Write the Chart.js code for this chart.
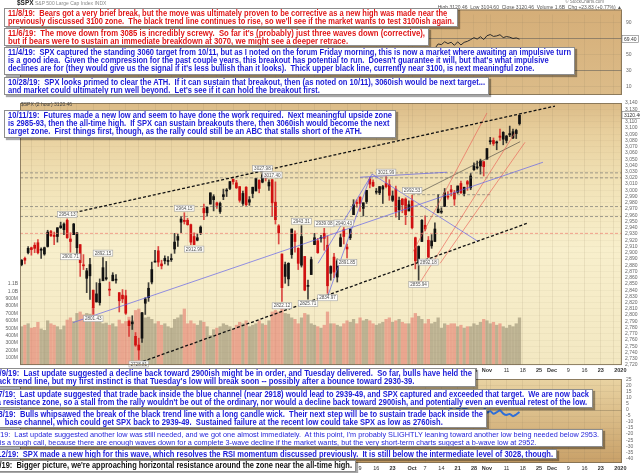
<!DOCTYPE html>
<html>
<head>
<meta charset="utf-8">
<script src="https://cdn.jsdelivr.net/npm/chart.js@4.4.1/dist/chart.umd.min.js"></script>
<style>
  html, body { margin: 0; padding: 0; background: #fff; }
  body { width: 640px; height: 473px; position: relative; overflow: hidden; font-family: "Liberation Sans", Arial, sans-serif; }
  canvas { position: absolute; left: 0; }
  .lbl { position: absolute; white-space: pre; color: #555; font-size: 5px; line-height: 6px; }
  .note { position: absolute; box-sizing: border-box; background: #fff; border: 1px solid #8d8d8d; box-shadow: 2px 2px 1px rgba(0,0,0,.35); overflow: hidden; }
  .note .txt { position: absolute; left: 3px; top: 0.5px; transform-origin: 0 0; white-space: pre; font-weight: bold; font-size: 8.2px; line-height: 8.1px; }
</style>
</head>
<body>
<canvas id="rsiPane" width="640" height="102" style="top:0"></canvas>
<canvas id="pricePane" width="640" height="283" style="top:97px"></canvas>
<canvas id="lowerPane" width="640" height="101" style="top:372px"></canvas>
<div class="lbl" style="left:17px;top:0;"><b style="font-size:6.5px;color:#222">$SPX</b> <span style="color:#888">S&amp;P 500 Large Cap Index INDX</span></div>
<div class="lbl" style="right:36px;top:-1px;font-size:4.5px;color:#777">© StockCharts.com</div>
<div class="lbl" style="right:18px;top:4px;color:#555">High 3120.46  Low 3104.60  Close 3120.46  Volume 1.6B  Chg +23.83 (+0.77%) ▲</div>
<div class="lbl" style="left:21px;top:101px;color:#444">$SPX (2 hour) 3120.46</div>
<div id="notes"></div>
<script>
// daily candles, Apr 10 2019 .. Nov 15 2019 (x = trading-day index)
const opens = [2881,2891,2900,2908,2912,2916,2904,2898,2910,2934,2928,2926,2940,2937,
  2952,2922,2929,2908,2913,2880,2859,2863,2840,2821,2820,2855,2858,2841,2855,2856,2836,2832,2831,2790,2786,2766,
  2752,2763,2819,2828,2853,2885,2903,2882,2887,2886,2889,2906,2920,2949,2952,2952,2945,2926,2920,2932,
  2971,2964,2978,2985,2980,2966,2990,2999,3003,3018,3012,3006,2979,3005,2981,2995,2999,3016,3013,3024,3007,3017,
  2981,2943,2898,2862,2858,2897,2930,2907,2880,2894,2846,2865,2913,2919,2923,2931,2912,2867,2893,2861,2910,2937,
  2909,2924,2961,2980,2989,2971,2982,3018,3013,2997,2996,3002,3011,3009,2984,3002,2969,2986,2986,2967,
  2983,2924,2885,2918,2944,2920,2911,2918,2964,2965,2974,2990,3001,2996,2997,3011,2995,3014,3004,3033,3036,3039,3046,
  3050,3078,3080,3076,3087,3082,3080,3089,3084,3091,3107];
const highs = [2889,2893,2910,2909,2916,2921,2908,2909,2936,2936,2933,2940,2949,2948,
  2954.13,2932,2947,2932,2913,2897,2875,2891,2840,2852,2858,2892.15,2886,2853,2868,2865,2836,2841,2840,2792,2799,2772,
  2763,2804,2828,2852,2885,2904,2910,2888,2895,2894,2898,2931,2930,2958,2964.15,2955,2946,2932,2930,2943,
  2978,2973,2996,2993,2981,2981,3002,3003,3014,3018,3016,3006,2999,3006,2990,3005,3019,3017,3027.98,3026,3017,3017.40,
  3013.59,2945,2898,2885,2884,2938,2935,2908,2943.31,2894,2856,2893,2931,2923,2928,2939.08,2927,2879,2899,2890,2930,2940.43,
  2914,2938,2985,2985,2990,2980,3000,3020.74,3017,3003,3006,3008,3021.99,3017,2999,3007,2989,2987,2988,2983,
  2992.53,2925,2911,2953,2959,2926,2929,2948,2993.28,2972,3003,2998,3008,3000,3007,3015,3005,3016,3027,3044,3047,3050,3046,
  3067,3085,3084,3079,3098,3094,3088,3103,3098,3098,3120.46];
const lows = [2879,2882,2898,2896,2900,2898,2891,2896,2909,2926,2913,2917,2939,2929,
  2923,2900.71,2929,2898,2862,2873,2836,2825,2801.43,2821,2816,2855,2856,2831,2855,2851,2805,2820,2801,2766,2777,2750,
  2728.81,2756,2801,2822,2850,2885,2878,2874,2882,2880,2886,2899,2910,2932,2946,2944,2913,2912.99,2919,2929,
  2953,2959,2978,2967,2971,2963,2985,2990,3001,3010,3003,2981,2976,2975,2976,2988,2999,2996,3012,3015,3000,2958,
  2946,2914,2822.12,2851,2847,2891,2901,2873,2877,2839,2825.71,2865,2913,2899,2917,2904,2834.97,2856,2860,2853,2910,2914,
  2891.85,2921,2961,2973,2966,2959,2979,3004,3006,2994,2993,2979,3004,2984,2982,2957,2953,2964,2945,2967,
  2938,2874,2855.94,2918,2935,2892.18,2907,2918,2964,2963,2974,2986,2991,2976,2995,2995,2991,3000,3001,3032,3034,3026,3023,
  3050,3074,3072,3065,3080,3073,3076,3086,3083,3083,3104.60];
const closes = [2888,2888,2907,2905,2907,2900,2905,2908,2933,2927,2926,2940,2943,2946,
  2924,2918,2946,2932,2884,2879,2871,2881,2812,2834,2851,2876,2860,2840,2864,2856,2823,2826,2803,2783,2789,2752,
  2744,2804,2826,2843,2873,2886,2885,2879,2891,2887,2889,2917,2926,2954,2950,2945,2917,2913,2924,2941,
  2964,2973,2996,2990,2976,2979,2993,3000,3014,3014,3004,2984,2995,2977,2985,3005,3019,3003,3025,3020,3013,2980,
  2953,2932,2844,2881,2883,2938,2918,2883,2926,2840,2847,2889,2924,2900,2924,2923,2847,2878,2869,2887,2924,2926,
  2906,2938,2977,2979,2979,2980,3000,3010,3007,2998,3006,3006,3006,2992,2991,2966,2984,2977,2961,2977,
  2940,2887,2910,2952,2938,2893,2919,2938,2970,2966,2996,2989,2998,2986,3007,2996,3005,3010,3023,3039,3036,3047,3038,
  3067,3078,3075,3077,3085,3093,3087,3091,3094,3096,3120.46];
// volume in millions
const volumes = [520,540,560,500,510,580,490,470,600,560,540,520,480,530,
  610,640,590,700,720,680,700,690,780,640,600,560,570,540,560,520,610,560,590,650,600,740,
  760,700,640,650,620,560,590,540,560,520,500,620,640,680,760,560,600,560,540,600,
  580,520,400,480,500,520,560,540,520,480,540,580,560,600,520,540,560,600,560,540,600,720,
  740,720,800,700,690,640,620,560,640,700,680,560,540,520,500,540,720,560,560,540,520,560,
  600,580,620,560,640,600,620,600,560,540,560,580,620,640,580,600,620,580,560,560,
  640,700,660,620,560,620,560,580,640,500,560,540,560,560,520,540,500,520,520,560,540,580,620,
  600,560,580,540,560,520,500,540,520,560,640];
// indicator panes start at Oct 1 (index 120)
const paneStart = 120;
const rsi = [48.2,38.5,45.1,52.6,50.3,41.8,47.0,57.9,63.4,62.6,66.1,63.9,65.5,61.7,66.0,62.2,65.4,66.7,68.8,71.2,
  69.5,72.4,68.9,73.6,75.1,72.8,73.4,74.9,71.3,72.6,71.8,70.2,70.9,69.4];
const lowerLine = [-8.2,-14.5,-11.3,-6.1,-7.4,-12.0,-9.6,-6.8,-2.9,-3.3,0.4,-0.8,1.1,-1.6,1.9,0.2,1.3,2.1,3.8,4.9,
  3.6,4.7,2.8,-2.1,-0.9,-3.1,-1.8,-0.4,-3.0,-4.2,-3.2,-5.1,-3.7,-1.6];

const xTicks = [[3,'15'],[7,'22'],[12,''],[14,'May'],[17,'6'],[22,'13'],[27,'20'],[32,'28'],[36,'Jun'],[41,'10'],[46,'17'],[51,'24'],
  [56,'Jul'],[60,'8'],[65,'15'],[70,'22'],[75,'29'],[78,'Aug'],[80,''],[85,'12'],[90,'19'],[95,'26'],[100,'Sep'],[104,'9'],
  [109,'16'],[114,'23'],[119,''],[120,'Oct'],[124,'7'],[129,'14'],[134,'21'],[139,'28'],[143,'Nov'],[144,''],[149,'11'],
  [154,'18'],[159,'25'],[163,'Dec'],[168,'9'],[173,'16'],[178,'23'],[182,''],[184,'2020']];
const rsiTicks = [10,30,50,70,90];
const lowerTicks = [-40,-35,-30,-25,-20,-15,-10,-5,0,5,10,15,20,25];

// labelled highs / lows
const priceNotes = [[14,'high'],[15,'low'],[22,'low'],[25,'high'],[36,'low'],[50,'high'],[53,'low'],[74,'high'],[77,'high'],
  [80,'low'],[86,'high'],[88,'low'],[93,'high'],[94,'low'],[99,'high'],[100,'low'],[112,'high'],[120,'high'],[122,'low'],[125,'low']];
// drawn trend lines [x1, price1, x2, price2, kind]
const trendLines = [
  [13.3,2961,163.9,3135,'black'],
  [35.8,2723,155.3,2947,'black'],
  [15.8,2788,160.2,3045,'blue'],
  [93.9,2828,107.1,3021,'blue'],
  [91.1,2883,107.7,3026,'blue'],
  [107.7,3026,140.3,2918,'blue'],
  [104.0,3021,130.7,3029,'blue'],
  [120.3,2902,143.0,3124,'red'],
  [121.8,2847,151.6,3092,'red'],
  [128.6,2883,154.7,3077,'red'],
  [122.4,2997,153.2,3078,'thin'],
  [120.0,2993,144.0,2993,'grey']
];
const levels = [[3028,'grey'],[3020,'grey'],[2974,'grey'],[2958,'grey'],[2931,'pink']];

const X_MIN = -0.5, X_MAX = 184.5;
Chart.defaults.font.family = '"Liberation Sans", Arial, sans-serif';

const lineStyles = {
  black: { borderColor: '#111', borderWidth: 1.3, borderDash: [3, 2] },
  blue: { borderColor: 'rgba(95,95,235,0.85)', borderWidth: 0.8 },
  red: { borderColor: 'rgba(235,95,85,0.8)', borderWidth: 0.8 },
  thin: { borderColor: 'rgba(40,40,40,0.75)', borderWidth: 0.7 },
  grey: { borderColor: 'rgba(110,110,110,0.8)', borderWidth: 0.8, borderDash: [3, 2] },
  pink: { borderColor: 'rgba(240,125,110,0.85)', borderWidth: 0.8, borderDash: [3, 2] }
};

function paneBg(stops, extraTop) {
  return {
    id: 'paneBg',
    beforeDraw(chart) {
      const { ctx, chartArea: a } = chart;
      const top = a.top - extraTop;
      const g = ctx.createLinearGradient(0, top, 0, a.bottom);
      stops.forEach(s => g.addColorStop(s[0], s[1]));
      ctx.save();
      ctx.fillStyle = g;
      ctx.fillRect(a.left, top, a.right - a.left, a.bottom - top);
      ctx.restore();
    },
    afterDraw(chart) {
      const { ctx, chartArea: a } = chart;
      ctx.save();
      ctx.strokeStyle = 'rgba(120,105,80,0.8)';
      ctx.lineWidth = 1;
      ctx.strokeRect(a.left + 0.5, a.top - extraTop + 0.5, a.right - a.left - 1, a.bottom - a.top + extraTop - 1);
      ctx.restore();
    }
  };
}

function tagPlugin(value, axisId, digits) {
  return {
    id: 'tag',
    afterDraw(chart) {
      const { ctx } = chart;
      const y = chart.scales[axisId].getPixelForValue(value);
      const t = value.toFixed(digits);
      ctx.save();
      ctx.font = '5px "Liberation Sans"';
      const w = ctx.measureText(t).width + 4;
      const x = chart.chartArea.right;
      ctx.fillStyle = '#fff';
      ctx.fillRect(x, y - 3.5, w, 7);
      ctx.strokeStyle = '#777';
      ctx.lineWidth = 0.6;
      ctx.strokeRect(x, y - 3.5, w, 7);
      ctx.fillStyle = '#333';
      ctx.textBaseline = 'middle';
      ctx.fillText(t, x + 2, y + 0.5);
      ctx.restore();
    }
  };
}

const notesPlugin = {
  id: 'priceNotes',
  afterDatasetsDraw(chart) {
    const { ctx, scales: { x, y } } = chart;
    ctx.save();
    ctx.font = '4.6px "Liberation Sans"';
    ctx.textAlign = 'center';
    ctx.textBaseline = 'middle';
    priceNotes.forEach(([i, side]) => {
      const v = side === 'high' ? highs[i] : lows[i];
      const px = x.getPixelForValue(i);
      const py = y.getPixelForValue(v) + (side === 'high' ? -4.5 : 4.5);
      const t = v.toFixed(2);
      const w = ctx.measureText(t).width + 3;
      ctx.fillStyle = 'rgba(255,255,255,0.92)';
      ctx.fillRect(px - w / 2, py - 3, w, 6);
      ctx.strokeStyle = '#a0a0a0';
      ctx.lineWidth = 0.6;
      ctx.strokeRect(px - w / 2, py - 3, w, 6);
      ctx.fillStyle = '#555';
      ctx.fillText(t, px, py + 0.3);
    });
    ctx.restore();
  }
};

const tickLabel = v => { const t = xTicks.find(k => k[0] === v); return t ? t[1] : ''; };

function xAxis(showLabels, height) {
  return {
    type: 'linear', min: X_MIN, max: X_MAX, offset: false,
    grid: { color: 'rgba(140,125,95,0.22)', lineWidth: 0.6, drawTicks: false, offset: false },
    border: { display: false },
    afterBuildTicks: s => { s.ticks = xTicks.map(t => ({ value: t[0] })); },
    afterFit: s => { s.height = height; },
    ticks: {
      display: showLabels, autoSkip: false, maxRotation: 0, minRotation: 0, padding: 2, color: '#333',
      font: c => ({ size: 5.5, weight: /^[A-Z2]/.test(tickLabel(c.tick ? c.tick.value : -1)) ? 'bold' : 'normal' }),
      callback: v => tickLabel(v)
    }
  };
}

const upDown = (i, up, down) => closes[i] >= opens[i] ? up : down;

// ---------- price pane ----------
const lineSets = trendLines.map(l => Object.assign({
  type: 'line', data: [{ x: l[0], y: l[1] }, { x: l[2], y: l[3] }],
  pointRadius: 0, fill: false, yAxisID: 'y', order: 0
}, lineStyles[l[4]])).concat(levels.map(l => Object.assign({
  type: 'line', data: [{ x: X_MIN, y: l[0] }, { x: X_MAX, y: l[0] }],
  pointRadius: 0, fill: false, yAxisID: 'y', order: 0
}, lineStyles[l[1]])));

new Chart(document.getElementById('pricePane'), {
  type: 'bar',
  data: {
    datasets: lineSets.concat([
      {
        label: 'wicks', data: highs.map((h, i) => ({ x: i, y: [lows[i], h] })),
        yAxisID: 'y', grouped: false, barThickness: 1, order: 2,
        backgroundColor: c => upDown(c.dataIndex, 'rgba(30,30,30,0.85)', 'rgba(215,45,45,0.85)')
      },
      {
        label: 'bodies', data: opens.map((o, i) => ({ x: i, y: [o, closes[i]] })),
        yAxisID: 'y', grouped: false, barThickness: 2, minBarLength: 1, order: 1,
        backgroundColor: c => upDown(c.dataIndex, '#111', '#d01010')
      },
      {
        label: 'volume', data: volumes.map((v, i) => ({ x: i, y: v })),
        yAxisID: 'yv', grouped: false, barThickness: 2.6, order: 10,
        backgroundColor: c => upDown(c.dataIndex, 'rgba(150,140,112,0.6)', 'rgba(226,112,100,0.55)')
      }
    ])
  },
  options: {
    responsive: false, animation: false, events: [],
    layout: { padding: { top: 3, left: 0, right: 0, bottom: 0 } },
    plugins: { legend: { display: false }, tooltip: { enabled: false } },
    scales: {
      x: xAxis(true, 15),
      y: {
        type: 'linear', position: 'right', min: 2720, max: 3140, beginAtZero: false,
        grid: { color: 'rgba(140,125,95,0.13)', lineWidth: 0.5, drawTicks: false },
        border: { display: false },
        ticks: { stepSize: 10, autoSkip: false, padding: 3, font: { size: 5 }, color: '#666' },
        afterFit: s => { s.width = 18; }
      },
      yv: {
        type: 'linear', position: 'left', min: 0, max: 3555,
        grid: { display: false, drawTicks: false }, border: { display: false },
        ticks: {
          stepSize: 100, autoSkip: false, padding: 2, font: { size: 5 }, color: '#666',
          callback: v => (v > 0 && v <= 1100) ? (v >= 1000 ? (v / 1000).toFixed(1) + 'B' : v + 'M') : ''
        },
        afterFit: s => { s.width = 20; }
      }
    }
  },
  plugins: [
    paneBg([[0, '#dbbb87'], [0.11, '#e8cf9d'], [0.3, '#f1e2b6'], [0.56, '#f8efcc'], [1, '#f3e8c2']], 0),
    notesPlugin,
    tagPlugin(closes[closes.length - 1], 'y', 2)
  ]
});

// ---------- RSI pane ----------
new Chart(document.getElementById('rsiPane'), {
  type: 'line',
  data: {
    datasets: [{
      data: rsi.map((v, i) => ({ x: paneStart + i, y: v })),
      borderColor: '#2b2b2b', borderWidth: 1, pointRadius: 0, tension: 0
    }]
  },
  options: {
    responsive: false, animation: false, events: [],
    layout: { padding: { top: 14.5, left: 20, right: 0, bottom: 0 } },
    plugins: { legend: { display: false }, tooltip: { enabled: false } },
    scales: {
      x: xAxis(false, 2.5),
      y: {
        type: 'linear', position: 'right', min: 0, max: 100,
        afterBuildTicks: s => { s.ticks = rsiTicks.map(v => ({ value: v })); },
        grid: {
          drawTicks: false, lineWidth: 0.7,
          color: c => (c.tick && (c.tick.value === 70 || c.tick.value === 30)) ? 'rgba(85,85,85,0.75)' : 'rgba(140,125,95,0.2)'
        },
        border: { display: false },
        ticks: { autoSkip: false, padding: 4, font: { size: 5 }, color: '#666' },
        afterFit: s => { s.width = 18; }
      }
    }
  },
  plugins: [
    paneBg([[0, '#d5ae78'], [1, '#dcbc89']], 5),
    tagPlugin(rsi[rsi.length - 1], 'y', 2)
  ]
});

// ---------- lower pane ----------
new Chart(document.getElementById('lowerPane'), {
  type: 'line',
  data: {
    datasets: [{
      data: lowerLine.map((v, i) => ({ x: paneStart + i, y: v })),
      borderColor: '#2f6fd8', borderWidth: 2, pointRadius: 0, tension: 0.3
    }]
  },
  options: {
    responsive: false, animation: false, events: [],
    layout: { padding: { top: 3, left: 20, right: 0, bottom: 0 } },
    plugins: { legend: { display: false }, tooltip: { enabled: false } },
    scales: {
      x: xAxis(true, 10),
      y: {
        type: 'linear', position: 'right', min: -44, max: 25.8,
        afterBuildTicks: s => { s.ticks = lowerTicks.map(v => ({ value: v })); },
        grid: { drawTicks: false, lineWidth: 0.6, color: c => (c.tick && c.tick.value === 0) ? 'rgba(90,80,60,0.5)' : 'rgba(140,125,95,0.18)' },
        border: { display: false },
        ticks: { autoSkip: false, padding: 4, font: { size: 5 }, color: '#666' },
        afterFit: s => { s.width = 18; }
      }
    }
  },
  plugins: [paneBg([[0, '#e9d3a2'], [1, '#c8a068']], 0)]
});

// ---------- commentary boxes ----------
const RED = '#e01818', BLUE = '#1c1cd8', BLACK = '#111';
const notes = [
  { l: 4, t: 8, w: 454, h: 19, c: RED, lines: [
    '11/8/19:  Bears got a very brief break, but the move was ultimately proven to be corrective as a new high was made near the',
    'previously discussed 3100 zone.  The black trend line continues to rise, so we\'ll see if the market wants to test 3100ish again.'] },
  { l: 4, t: 28, w: 425, h: 18, c: RED, lines: [
    '11/6/19:  The move down from 3085 is incredibly screwy.  So far it\'s (probably) just three waves down (corrective),',
    'but if bears were to sustain an immediate breakdown at 3070, we might see a deeper retrace.'] },
  { l: 4, t: 47, w: 571, h: 28, c: BLUE, lines: [
    '11/4/19:  SPX captured the standing 3060 target from 10/11, but as I noted on the forum Friday morning, this is now a market where awaiting an impulsive turn',
    'is a good idea.  Given the compression for the past couple years, this breakout has potential to run.  Doesn\'t guarantee it will, but that\'s what impulsive',
    'declines are for (they would give us the signal if it\'s less bullish than it looks).  Thick upper black line, currently near 3100, is next meaningful zone.'] },
  { l: 4, t: 77, w: 485, h: 18, c: BLUE, lines: [
    '10/28/19:  SPX looks primed to clear the ATH.  If it can sustain that breakout, then (as noted on 10/11), 3060ish would be next target...',
    'and market could ultimately run well beyond.  Let\'s see if it can hold the breakout first.'] },
  { l: 4, t: 110, w: 392, h: 28, c: BLUE, lines: [
    '10/11/19:  Futures made a new low and seem to have done the work required.  Next meaningful upside zone',
    'is 2985-93, then the all-time high.  If SPX can sustain breakouts there, then 3060ish would become the next',
    'target zone.  First things first, though, as the rally could still be an ABC that stalls short of the ATH.'] },
  { l: -13, t: 368, w: 489, h: 19, c: BLUE, lines: [
    '10/9/19:  Last update suggested a decline back toward 2900ish might be in order, and Tuesday delivered.  So far, bulls have held the',
    'black trend line, but my first instinct is that Tuesday\'s low will break soon -- possibly after a bounce toward 2930-39.'] },
  { l: -16, t: 389, w: 609, h: 19, c: BLUE, lines: [
    '10/7/19:  Last update suggested that trade back inside the blue channel (near 2918) would lead to 2939-49, and SPX captured and exceeded that target.  We are now back',
    'in a resistance zone, so a stall from the rally wouldn\'t be out of the ordinary, nor would a decline back toward 2900ish, and potentially even an eventual retest of the low.'] },
  { l: -16, t: 409, w: 503, h: 19, c: BLUE, lines: [
    '10/3/19:  Bulls whipsawed the break of the black trend line with a long candle wick.  Their next step will be to sustain trade back inside the',
    '        base channel, which could get SPX back to 2939-49.  Sustained failure at the recent low could take SPX as low as 2760ish.'] },
  { l: -20, t: 429, w: 623, h: 18, c: BLUE, thin: true, lines: [
    '10/2/19:  Last update suggested another low was still needed, and we got one almost immediately.  At this point, I\'m probably SLIGHTLY leaning toward another low being needed below 2953.',
    'This is a tough call, because there are enough waves down for a complete 3-wave decline if the market wants, but the very short-term charts suggest a b-wave low at 2952.'] },
  { l: -13, t: 449, w: 570, h: 10, c: BLUE, lines: [
    '9/12/19:  SPX made a new high for this wave, which resolves the RSI momentum discussed previously.  It is still below the intermediate level of 3028, though.'] },
  { l: -19, t: 460, w: 375, h: 12, c: BLACK, lines: [
    '9/10/19:  Bigger picture, we\'re approaching horizontal resistance around the zone near the all-time high.'] }
];

const holder = document.getElementById('notes');
notes.forEach(n => {
  const d = document.createElement('div');
  d.className = 'note';
  Object.assign(d.style, { left: n.l + 'px', top: n.t + 'px', width: n.w + 'px', height: n.h + 'px' });
  const t = document.createElement('div');
  t.className = 'txt';
  t.style.color = n.c;
  if (n.thin) { t.style.fontWeight = 'normal'; t.style.fontSize = '7.8px'; }
  n.lines.forEach(s => { const r = document.createElement('div'); r.textContent = s; t.appendChild(r); });
  d.appendChild(t);
  holder.appendChild(d);
  const natural = t.getBoundingClientRect().width;
  t.style.transform = 'scaleX(' + ((n.w - 8) / natural) + ')';
});
</script>
</body>
</html>
